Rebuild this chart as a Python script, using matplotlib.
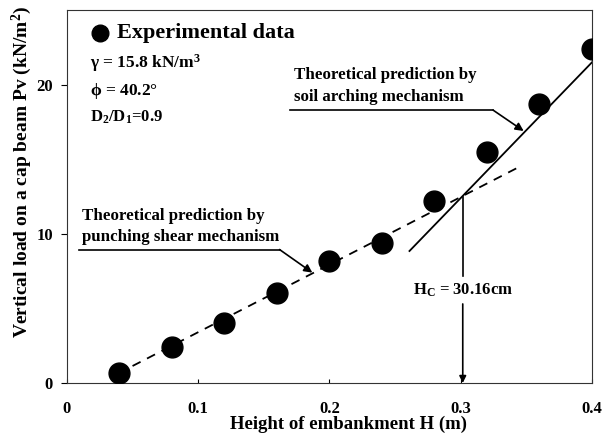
import matplotlib
matplotlib.use("Agg")
import matplotlib.pyplot as plt

# Measured load on the cap beam
height_m = [0.04, 0.08, 0.12, 0.16, 0.20, 0.24, 0.28, 0.32, 0.36, 0.40]
load_kpa = [0.67, 2.42, 4.04, 6.06, 8.15, 9.4, 12.2, 15.5, 18.7, 22.4]

# Theoretical predictions (end points of each straight line)
punch_x = [0.05, 0.347]
punch_y = [1.14, 14.6]
arch_x = [0.261, 0.40]
arch_y = [8.85, 21.5]

# Critical height
hc_m = 0.3016
hc_load = 12.5

xticks = [0, 0.1, 0.2, 0.3, 0.4]
xtick_labels = ["0", "0.1", "0.2", "0.3", "0.4"]
yticks = [0, 10, 20]

serif = ["Liberation Serif", "DejaVu Serif"]
plt.rcParams["font.family"] = serif
plt.rcParams["font.weight"] = "bold"
plt.rcParams["mathtext.fontset"] = "custom"
plt.rcParams["mathtext.rm"] = "Liberation Serif:bold"
plt.rcParams["mathtext.it"] = "Liberation Serif:bold"
plt.rcParams["mathtext.bf"] = "Liberation Serif:bold"

fig = plt.figure(figsize=(6.14, 4.36), dpi=100)
ax = fig.add_axes([0.109, 0.1216, 0.855, 0.855])

ax.plot(height_m, load_kpa, "o", color="black", markersize=15, zorder=3)
ax.plot(punch_x, punch_y, color="black", lw=1.3, dashes=(5, 4))
ax.plot(arch_x, arch_y, color="black", lw=1.3)

ax.set_xlim(0, 0.4)
ax.set_ylim(0, 25)
ax.set_xticks(xticks)
ax.set_xticklabels(xtick_labels)
ax.set_yticks(yticks)
ax.tick_params(axis="x", direction="in", length=3, pad=13, labelsize=12)
ax.tick_params(axis="y", direction="out", length=4, pad=6, labelsize=12)
for sp in ax.spines.values():
    sp.set_linewidth(0.8)
    sp.set_color("#333333")

fig.text(0.567, 0.026, "Height of embankment H (m)", fontsize=13.5,
         fontweight="bold", ha="center", va="center")
fig.text(0.036, 0.605, "Vertical load on a cap beam Pv (kN/m$^2$)", rotation=90,
         fontsize=14, fontweight="bold", ha="center", va="center")

# Legend-like key
ax.plot([0.025], [23.5], "o", color="black", markersize=12, clip_on=False)
ax.text(0.0385, 23.5, "Experimental data", fontsize=16, fontweight="bold", va="center")

# Material parameters
ax.text(0.0175, 21.45, r"$\gamma$ = 15.8 kN/m$^3$", fontsize=12.5, va="center")
ax.text(0.0175, 19.6, r"$\phi$ = 40.2°", fontsize=12.5, va="center")
ax.text(0.0175, 17.8, r"D$_2$/D$_1$=0.9", fontsize=12, va="center")

# Soil arching label
ax.text(0.173, 19.9, "Theoretical prediction by\nsoil arching mechanism",
        fontsize=12.2, va="center", linespacing=1.5)
ax.plot([0.170, 0.3247], [18.3, 18.3], color="black", lw=1.2)
ax.annotate("", xy=(0.348, 16.9), xytext=(0.3247, 18.3),
            arrowprops=dict(arrowstyle="-|>", color="black", lw=1.2,
                            mutation_scale=12, shrinkA=0, shrinkB=0))

# Punching shear label
ax.text(0.0114, 10.5, "Theoretical prediction by\npunching shear mechanism",
        fontsize=12.2, va="center", linespacing=1.45)
ax.plot([0.009, 0.162], [8.95, 8.95], color="black", lw=1.2)
ax.annotate("", xy=(0.187, 7.4), xytext=(0.162, 8.95),
            arrowprops=dict(arrowstyle="-|>", color="black", lw=1.2,
                            mutation_scale=12, shrinkA=0, shrinkB=0))

# Critical height marker
ax.plot([hc_m, hc_m], [hc_load, 7.2], color="black", lw=1.2)
ax.text(hc_m, 6.2, r"H$_\mathrm{C}$ = 30.16cm", fontsize=12, ha="center", va="center")
ax.annotate("", xy=(hc_m, 0), xytext=(hc_m, 5.3),
            arrowprops=dict(arrowstyle="-|>", color="black", lw=1.2,
                            mutation_scale=10, shrinkA=0, shrinkB=0))

fig.savefig("out.png", dpi=100)
